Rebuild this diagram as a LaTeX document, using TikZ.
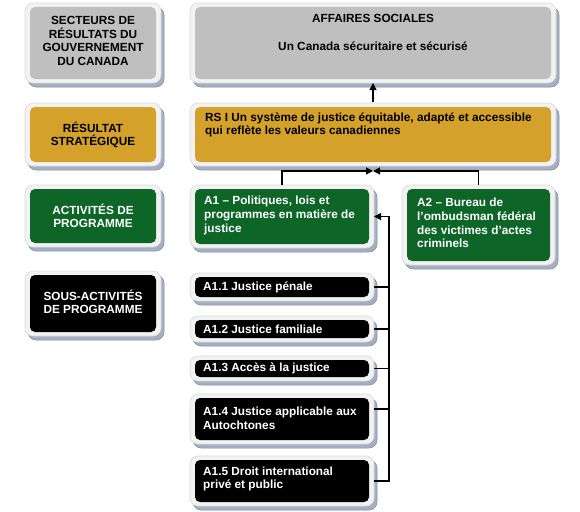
\documentclass[tikz,border=0pt]{standalone}
\usepackage{fontspec}
\setmainfont{Liberation Sans}
\usetikzlibrary{arrows.meta}
\pgfdeclarelayer{bg}
\pgfsetlayers{bg,main}
\definecolor{cgray}{HTML}{BFBFBF}
\definecolor{cgold}{HTML}{D4A22A}
\definecolor{cgreen}{HTML}{0D6527}
\definecolor{cblack}{HTML}{000000}
\definecolor{shadowc}{HTML}{A4AFC2}
\definecolor{shadowl}{HTML}{7A89A3}
\definecolor{framec}{HTML}{F2F2F2}
\definecolor{framel}{HTML}{DADADA}
\tikzset{
  panel/.style={rounded corners=5pt, inner sep=0pt, outer sep=0pt, anchor=north west},
  txt/.style={font=\bfseries\fontsize{11.8}{13.6}\selectfont, inner sep=0pt},
  ltxt/.style={txt, align=left},
  ctxt/.style={txt, align=center},
  conn/.style={draw=black, line width=1.1pt},
  tip/.style={-{Triangle[length=7pt,width=7pt]}}
}
\newcommand\panelbox[6]{%
  \node[panel, fill=#6, minimum width={(#4-#2)*1pt}, minimum height={(#5-#3)*1pt}] (#1) at (#2,#3) {};
  \begin{pgfonlayer}{bg}
    \filldraw[fill=shadowc, draw=shadowl, line width=0.5pt, rounded corners=8pt] (#2-5+3,#3-4+4) rectangle (#4+5+3,#5+4+4);
    \filldraw[fill=framec, draw=framel, line width=0.6pt, rounded corners=8pt] (#2-5,#3-4) rectangle (#4+5,#5+4);
  \end{pgfonlayer}}
\begin{document}
\begin{tikzpicture}[x=1pt,y=-1pt]
\useasboundingbox (0,0) rectangle (580,511);
% left column
\panelbox{lgray}{30}{7}{156}{79}{cgray}
\panelbox{lgold}{30}{107}{156}{162}{cgold}
\panelbox{lgreen}{30}{189}{156}{243}{cgreen}
\panelbox{lblack}{30}{275}{156}{332}{cblack}
% right column
\panelbox{rgray}{195}{7}{551}{79}{cgray}
\panelbox{rs}{195}{107}{551}{162}{cgold}
\panelbox{a1}{195}{189}{369}{244}{cgreen}
\panelbox{a2}{407}{189}{550}{261}{cgreen}
\panelbox{a11}{195}{277}{369}{297}{cblack}
\panelbox{a12}{195}{320}{369}{338}{cblack}
\panelbox{a13}{195}{360}{369}{377}{cblack}
\panelbox{a14}{195}{398}{369}{440}{cblack}
\panelbox{a15}{195}{460}{369}{502}{cblack}
% texts
\node[ctxt] (tlgray) at (93,41) {SECTEURS DE\\RÉSULTATS DU\\GOUVERNEMENT\\DU CANADA};
\node[ctxt] (tlgold) at (93,135) {RÉSULTAT\\STRATÉGIQUE};
\node[ctxt, text=white] (tlgreen) at (93,216) {ACTIVITÉS DE\\PROGRAMME};
\node[ctxt, text=white] (tlblack) at (93,302) {SOUS-ACTIVITÉS\\DE PROGRAMME};
\node[txt] (taff) at (373,18) {AFFAIRES SOCIALES};
\node[txt] (tcan) at (373,46) {Un Canada sécuritaire et sécurisé};
\node[ltxt, anchor=west] (trs) at (205,125) {RS I Un système de justice équitable, adapté et accessible\\qui reflète les valeurs canadiennes};
\node[ltxt, anchor=west, text=white] (ta1) at (204,215.5) {A1 – Politiques, lois et\\programmes en matière de\\justice};
\node[ltxt, anchor=west, text=white] (ta2) at (417,223) {A2 – Bureau de\\l’ombudsman fédéral\\des victimes d’actes\\criminels};
\node[ltxt, anchor=west, text=white] (ta11) at (203,287) {A1.1 Justice pénale};
\node[ltxt, anchor=west, text=white] (ta12) at (203,329) {A1.2 Justice familiale};
\node[ltxt, anchor=west, text=white] (ta13) at (203,368.5) {A1.3 Accès à la justice};
\node[ltxt, anchor=west, text=white] (ta14) at (203,418.5) {A1.4 Justice applicable aux\\Autochtones};
\node[ltxt, anchor=west, text=white] (ta15) at (203,479) {A1.5 Droit international\\privé et public};
% connectors
\draw[conn, tip] ([yshift=5pt]rs.north) -- ([yshift=-4pt]rgray.south);
\draw[conn, tip] ([yshift=4pt]a1.north) |- ([yshift=-9pt]rs.south);
\draw[conn, tip] ([yshift=4pt]a2.north) |- ([yshift=-9pt]rs.south);
\coordinate (tr) at (389,216.5);
\draw[conn, tip] ([xshift=5pt]a15.east) -| (tr) -- ([xshift=5pt]a1.east);
\draw[conn] ([xshift=5pt]a11.east) -- (a11.east -| tr);
\draw[conn] ([xshift=5pt]a12.east) -- (a12.east -| tr);
\draw[conn] ([xshift=5pt]a13.east) -- (a13.east -| tr);
\draw[conn] ([xshift=5pt,yshift=10pt]a14.east) -- ([yshift=10pt]a14.east -| tr);
\end{tikzpicture}
\end{document}
